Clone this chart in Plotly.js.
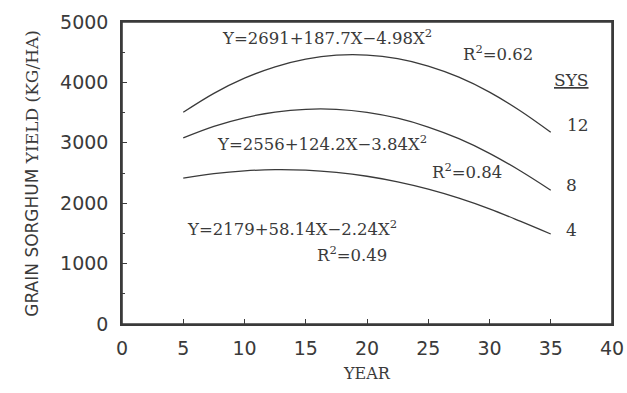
<!DOCTYPE html>
<html><head><meta charset="utf-8">
<script src="https://cdn.plot.ly/plotly-3.0.1.min.js"></script>
<style>html,body{margin:0;padding:0;background:#fff}#chart{width:627px;height:393px}</style>
</head><body><div id="chart"></div>
<script>
// Years (x) at which the fitted curves are read
const years = [5, 7.5, 10, 12.5, 15, 17.5, 20, 22.5, 25, 27.5, 30, 32.5, 35];
// Grain sorghum yield (kg/ha)
const sys12 = [3505, 3819, 4070, 4259, 4386, 4451, 4453, 4393, 4271, 4087, 3840, 3531, 3175];
const sys8  = [3081, 3272, 3414, 3509, 3555, 3554, 3504, 3407, 3261, 3068, 2826, 2537, 2215];
const sys4  = [2414, 2489, 2536, 2556, 2547, 2510, 2446, 2353, 2233, 2084, 1907, 1703, 1490];
const seriesNames = ["12", "8", "4"];
const xTicks = [0, 5, 10, 15, 20, 25, 30, 35, 40];
const yTicks = [0, 1000, 2000, 3000, 4000, 5000];

const ink = "#3a3a3a";
const serif = "DejaVu Serif, serif";
const sans = "DejaVu Sans, sans-serif";

const xMin = xTicks[0], xMax = xTicks[xTicks.length - 1];
const yMin = yTicks[0], yMax = yTicks[yTicks.length - 1];

const curveLine = {color: ink, width: 1.3, shape: "spline"};
const traces = [sys12, sys8, sys4].map((ys, i) => ({
  x: years, y: ys, type: "scatter", mode: "lines", name: "SYS " + seriesNames[i],
  line: curveLine, showlegend: false
}));
// Plot frame (axes box) drawn along the axis ranges
traces.push({
  x: [xMin, xMin, xMax, xMax, xMin], y: [yMin, yMax, yMax, yMin, yMin],
  type: "scatter", mode: "lines", line: {color: ink, width: 1.6},
  showlegend: false, hoverinfo: "skip", cliponaxis: false
});

const ann = (x, y, text, size) => ({x: x, y: y, xref: "x", yref: "y", text: text, showarrow: false,
  font: {family: serif, size: size || 16.5, color: ink}});

const layout = {
  width: 627, height: 393,
  margin: {l: 122, r: 15, t: 22, b: 69},
  paper_bgcolor: "#fff", plot_bgcolor: "#fff",
  showlegend: false,
  xaxis: {
    range: [xMin, xMax], tickvals: xTicks, ticktext: xTicks.map(String),
    showgrid: false, zeroline: false, showline: true, mirror: true,
    linecolor: ink, linewidth: 1.5, ticks: "inside", ticklen: 5, tickcolor: ink, tickwidth: 1.2,
    tickfont: {family: sans, size: 19, color: ink}, ticklabelstandoff: 6
  },
  yaxis: {
    range: [yMin, yMax], tick0: yMin, dtick: yTicks[1] - yTicks[0],
    showgrid: false, zeroline: false, showline: true, mirror: true,
    linecolor: ink, linewidth: 1.5, ticks: "inside", ticklen: 5, tickcolor: ink, tickwidth: 1.2,
    minor: {dtick: 500, ticks: "inside", ticklen: 3, tickcolor: ink},
    tickfont: {family: sans, size: 19, color: ink}, ticklabelstandoff: 8
  },
  annotations: [
    ann(16.7, 4750, "Y=2691+187.7X\u22124.98X<sup>2</sup>"),
    ann(30.7, 4490, "R<sup>2</sup>=0.62"),
    ann(36.7, 4040, "<u>SYS</u>", 17),
    ann(37.2, 3295, "12", 17),
    ann(16.3, 2997, "Y=2556+124.2X\u22123.84X<sup>2</sup>"),
    ann(28.2, 2533, "R<sup>2</sup>=0.84"),
    ann(36.7, 2300, "8", 17),
    ann(36.7, 1556, "4", 17),
    ann(13.9, 1590, "Y=2179+58.14X\u22122.24X<sup>2</sup>"),
    ann(18.8, 1160, "R<sup>2</sup>=0.49"),
    {x: 0.5, y: -0.202, xref: "paper", yref: "paper", text: "YEAR", showarrow: false,
     font: {family: serif, size: 16, color: ink}},
    {x: -0.208, y: 0.498, xref: "paper", yref: "paper", textangle: -90, showarrow: false,
     text: '<span style="font-family:DejaVu Sans">GRAIN SORGHUM</span> YIELD (KG/HA)',
     font: {family: serif, size: 17, color: ink}}
  ]
};

Plotly.newPlot("chart", traces, layout, {displayModeBar: false});
</script></body></html>
